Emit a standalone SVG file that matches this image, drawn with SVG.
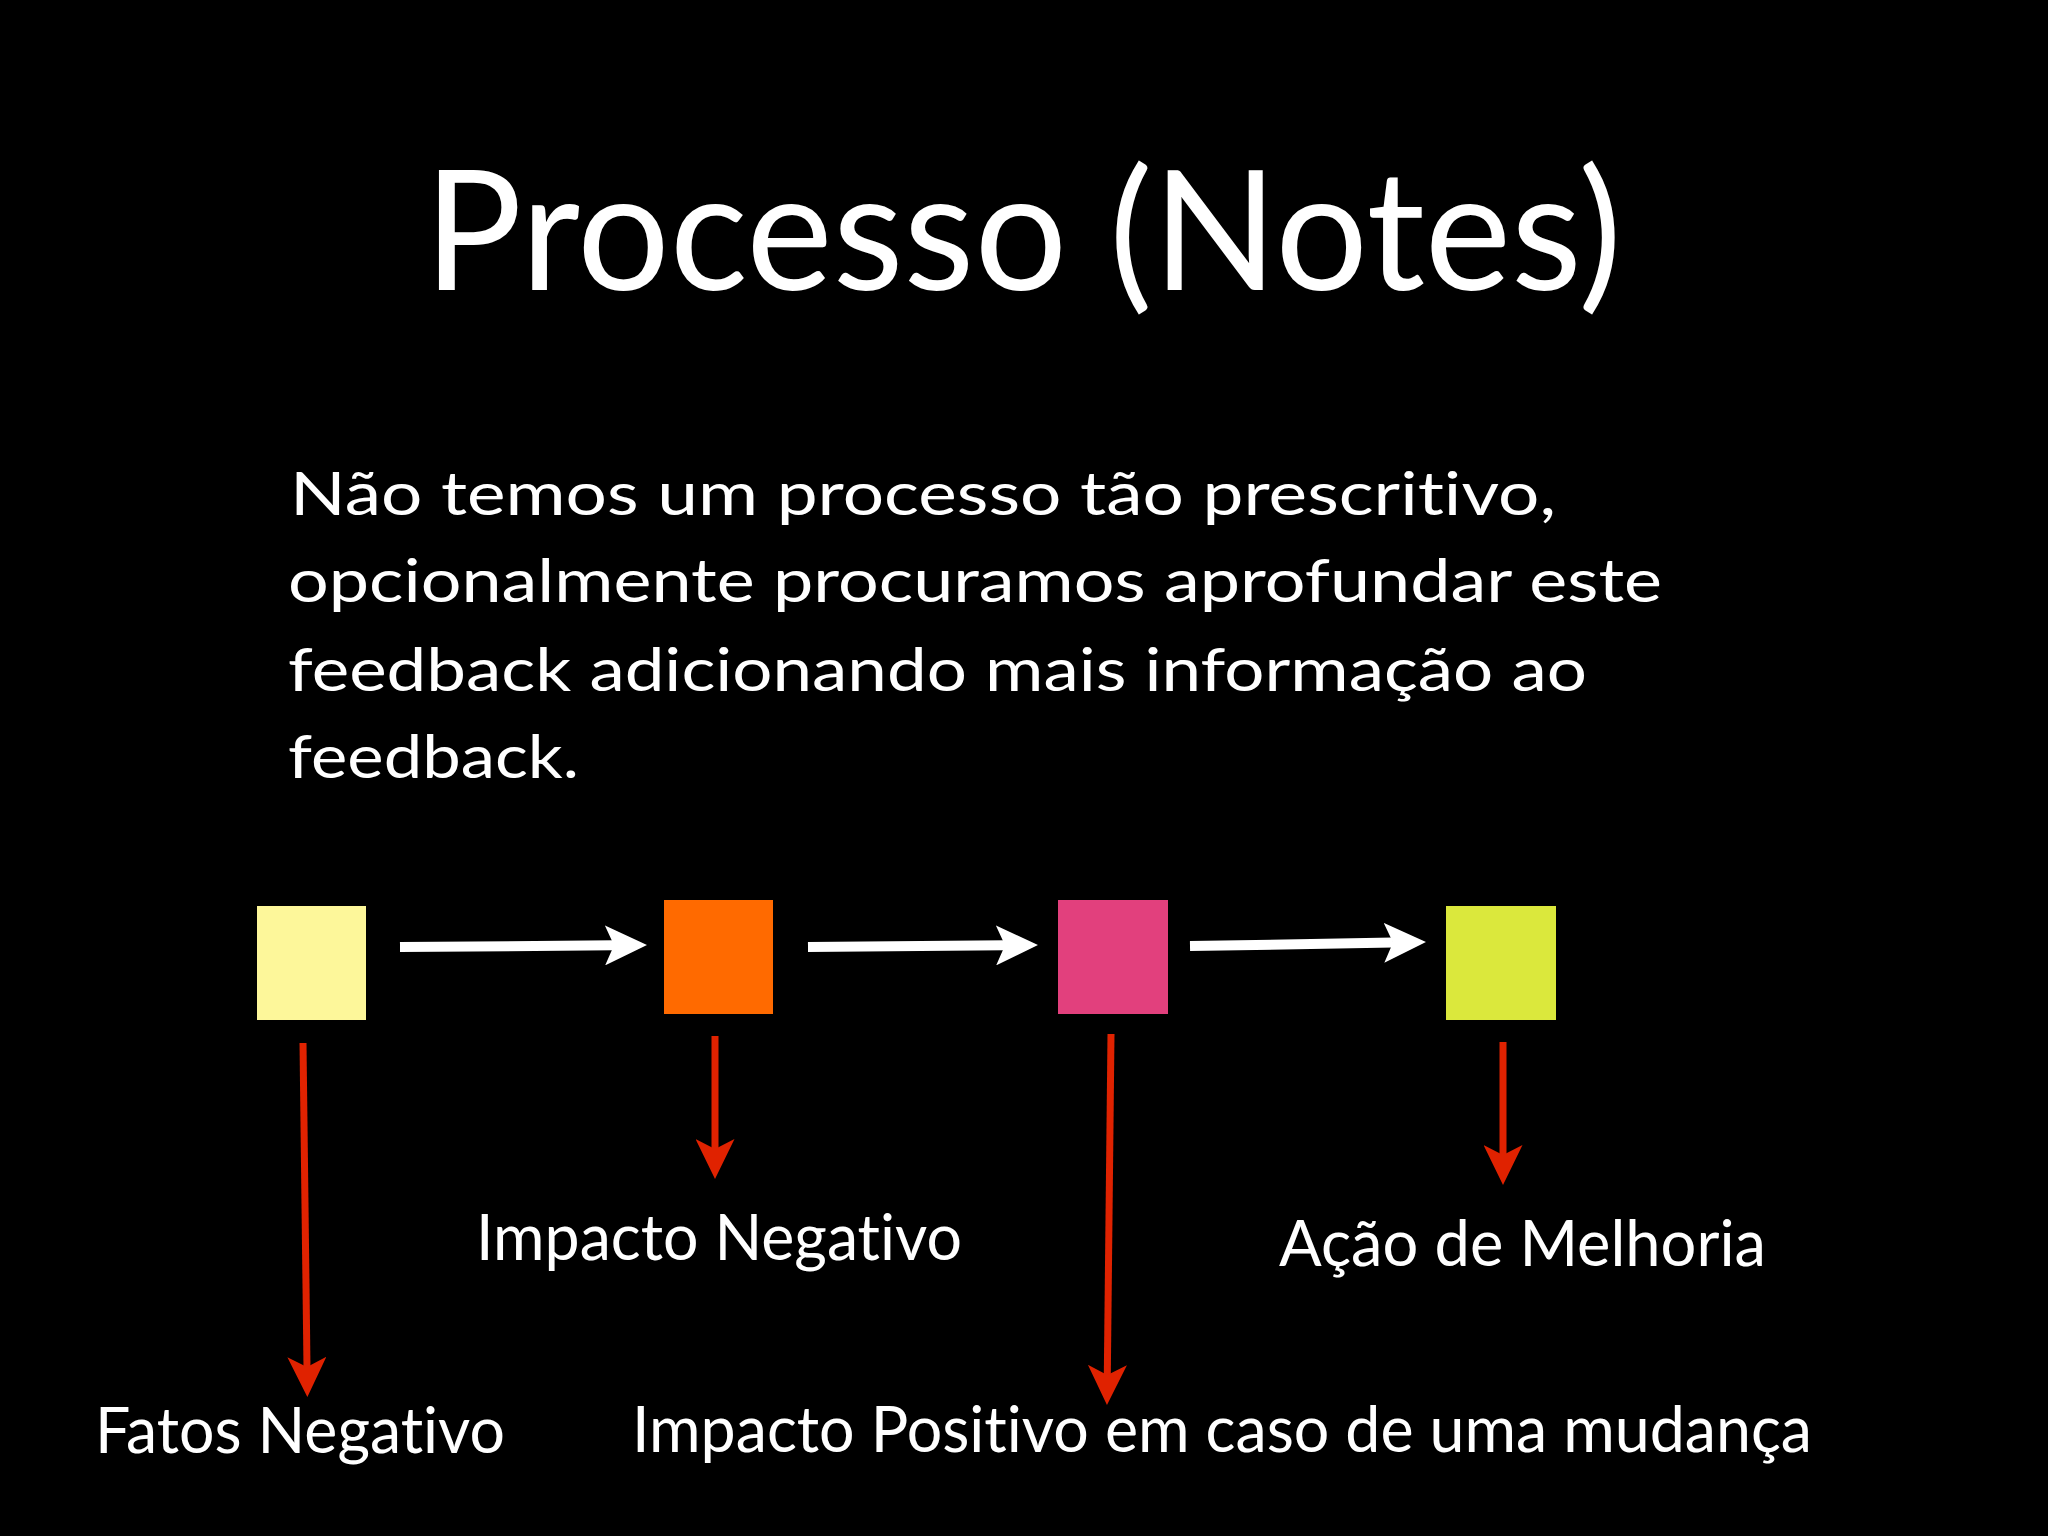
<svg xmlns="http://www.w3.org/2000/svg" width="2048" height="1536" viewBox="0 0 2048 1536">
<defs>
<style>
.t{fill:#fff;font-family:Lato,"Open Sans","DejaVu Sans",sans-serif;font-variant-ligatures:none;}
.title{font-size:166px;}
.body{font-size:60px;}
.lbl{font-size:63px;}
.wa{stroke:#fff;stroke-width:10;fill:none;}
.ra{stroke:#e02200;stroke-width:7;fill:none;}
</style>
<marker id="redhead" viewBox="0 0 40 39" refX="10" refY="19.5" markerWidth="40" markerHeight="39" markerUnits="userSpaceOnUse" orient="auto">
<path d="M0,0 L40,19.5 L0,39 L10,19.5 Z" fill="#e02200"/>
</marker>
<marker id="whitehead" viewBox="0 0 42 40" refX="9" refY="20" markerWidth="42" markerHeight="40" markerUnits="userSpaceOnUse" orient="auto">
<path d="M0,0 L42,20 L0,40 L9,20 Z" fill="#fff"/>
</marker>
</defs>
<rect width="2048" height="1536" fill="#000"/>
<g id="title"><text class="t title" x="424" y="290" textLength="1198" lengthAdjust="spacingAndGlyphs">Processo (Notes)</text></g>
<g id="body">
<text class="t body" x="290" y="515" textLength="1266" lengthAdjust="spacingAndGlyphs">Não temos um processo tão prescritivo,</text>
<text class="t body" x="288" y="602" textLength="1374" lengthAdjust="spacingAndGlyphs">opcionalmente procuramos aprofundar este</text>
<text class="t body" x="288" y="691" textLength="1299" lengthAdjust="spacingAndGlyphs">feedback adicionando mais informação ao</text>
<text class="t body" x="288" y="778" textLength="291" lengthAdjust="spacingAndGlyphs">feedback.</text>
</g>
<g id="node1"><rect x="257" y="906" width="109" height="114" fill="#fdf79a"/></g>
<g id="node2"><rect x="664" y="900" width="109" height="114" fill="#ff6a00"/></g>
<g id="node3"><rect x="1058" y="900" width="110" height="114" fill="#e2407d"/></g>
<g id="node4"><rect x="1446" y="906" width="110" height="114" fill="#dbe83c"/></g>
<g id="connectors">
<path class="wa" d="M400,947 L614,945.3" marker-end="url(#whitehead)"/>
<path class="wa" d="M808,947 L1005,945.3" marker-end="url(#whitehead)"/>
<path class="wa" d="M1190,946 L1393,942.6" marker-end="url(#whitehead)"/>
<path class="ra" d="M303,1043 L307,1367" marker-end="url(#redhead)"/>
<path class="ra" d="M715,1036 L715,1149" marker-end="url(#redhead)"/>
<path class="ra" d="M1111,1034 L1107.3,1375" marker-end="url(#redhead)"/>
<path class="ra" d="M1503,1042 L1503,1155" marker-end="url(#redhead)"/>
</g>
<g id="label-impacto-negativo"><text class="t lbl" x="476" y="1260" textLength="486" lengthAdjust="spacingAndGlyphs">Impacto Negativo</text></g>
<g id="label-acao"><text class="t lbl" x="1279" y="1266" textLength="487" lengthAdjust="spacingAndGlyphs">Ação de Melhoria</text></g>
<g id="label-fatos"><text class="t lbl" x="95" y="1453" textLength="410" lengthAdjust="spacingAndGlyphs">Fatos Negativo</text></g>
<g id="label-impacto-positivo"><text class="t lbl" x="632" y="1452" textLength="1180" lengthAdjust="spacingAndGlyphs">Impacto Positivo em caso de uma mudança</text></g>
</svg>
